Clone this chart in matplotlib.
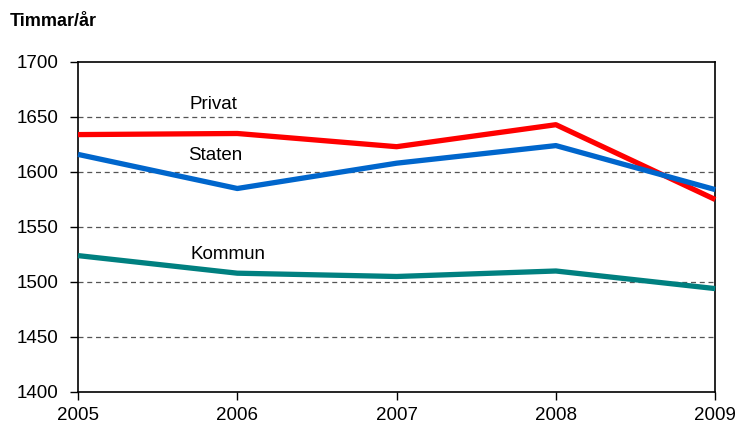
import matplotlib
matplotlib.use("Agg")
import matplotlib.pyplot as plt

plt.rcParams["font.family"] = ["Liberation Sans", "DejaVu Sans"]

years = [2005, 2006, 2007, 2008, 2009]
privat = [1634, 1635, 1623, 1643, 1575]
staten = [1616, 1585, 1608, 1624, 1584]
kommun = [1524, 1508, 1505, 1510, 1494]

fig = plt.figure(figsize=(7.38, 4.32), dpi=100)
ax = fig.add_axes([0.1057, 0.0926, 0.8634, 0.7639])

ax.plot(years, privat, color="#FF0000", lw=3.8, solid_capstyle="butt", zorder=3, clip_on=False)
ax.plot(years, staten, color="#0066CC", lw=3.8, solid_capstyle="butt", zorder=3, clip_on=False)
ax.plot(years, kommun, color="#008080", lw=3.8, solid_capstyle="butt", zorder=3, clip_on=False)

ax.set_xlim(2005, 2009)
ax.set_ylim(1400, 1700)
ax.set_xticks(years)
ax.set_yticks(range(1400, 1701, 50))
for y in range(1450, 1700, 50):
    ax.axhline(y, color="#555555", lw=0.9, ls=(0, (4, 3)), zorder=1)

ax.tick_params(axis="both", direction="out", length=6, width=1, labelsize=13.5, color="black")
ax.tick_params(axis="x", pad=5)
ax.tick_params(axis="y", pad=8)
for s in ax.spines.values():
    s.set_linewidth(1.2)
    s.set_color("black")

ax.text(2005.85, 1661, "Privat", fontsize=13.5, ha="center", va="center")
ax.text(2005.86, 1615, "Staten", fontsize=13.5, ha="center", va="center")
ax.text(2005.94, 1525, "Kommun", fontsize=13.5, ha="center", va="center")

fig.text(10 / 738, 1 - 22 / 432, "Timmar/år", fontsize=13, fontweight="bold", ha="left", va="center")

fig.savefig("out.png", dpi=100, facecolor="white")
